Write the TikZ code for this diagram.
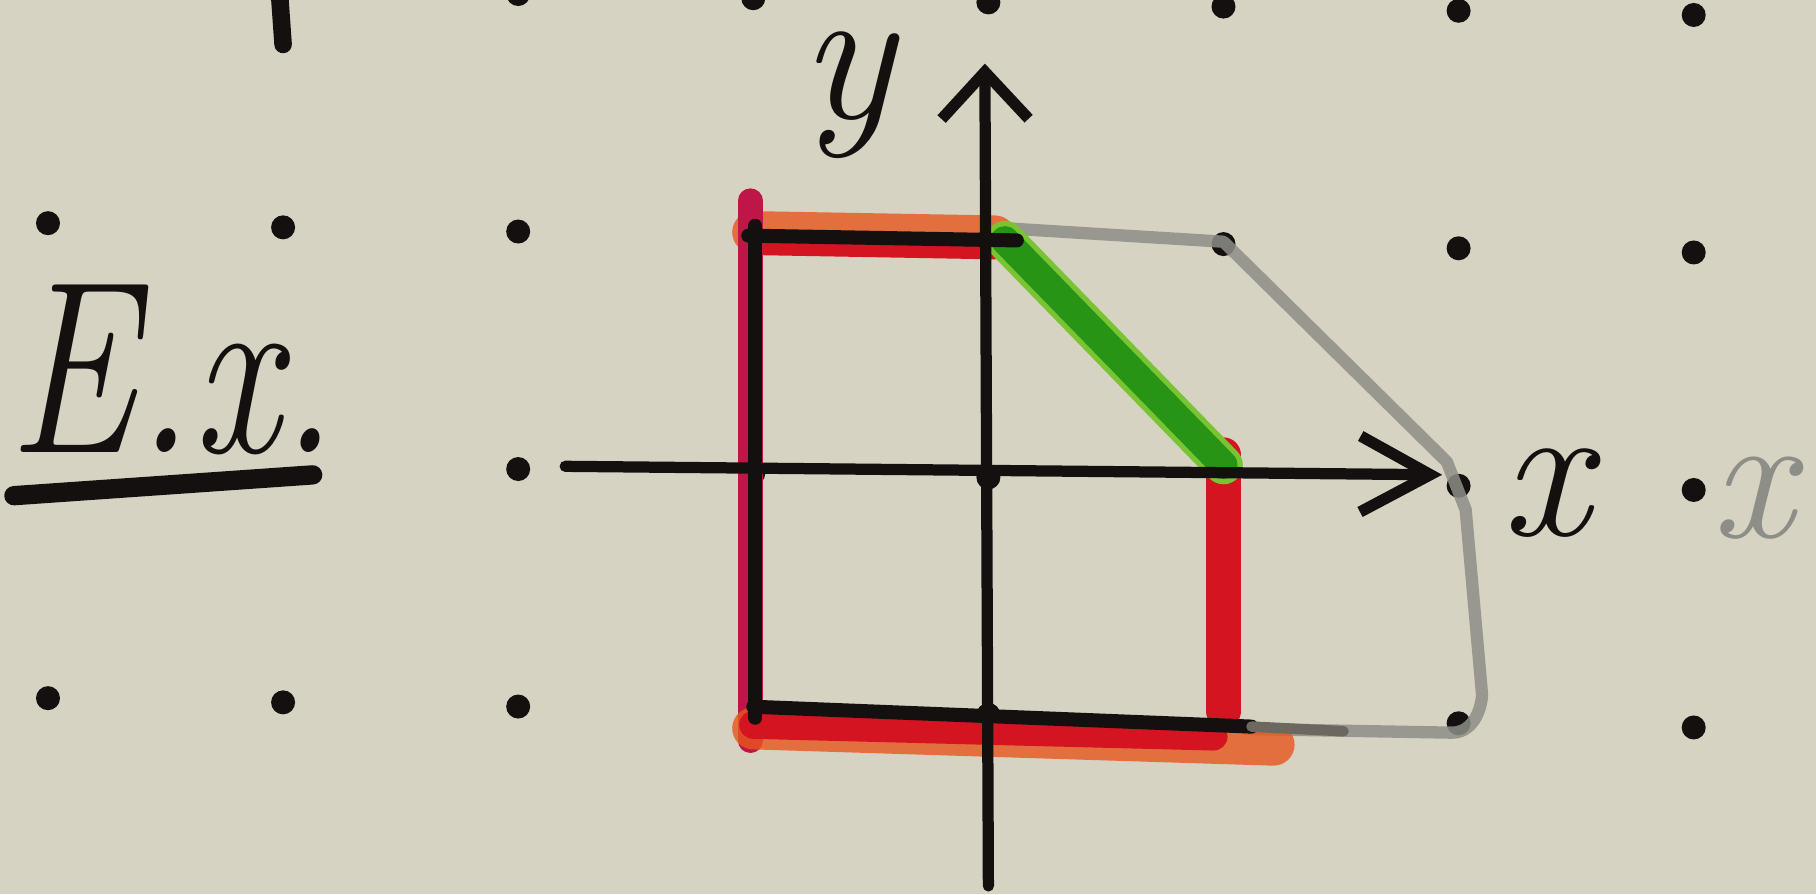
\documentclass[tikz,border=0pt]{standalone}
\usepackage{tikz}
\usepackage{graphicx}
\usetikzlibrary{arrows.meta}

\definecolor{paper}{RGB}{215,211,194}
\definecolor{ink}{RGB}{20,16,16}
\definecolor{markerred}{RGB}{212,20,32}
\definecolor{markerpink}{RGB}{190,22,72}
\definecolor{markerorange}{RGB}{232,86,30}
\definecolor{markergreen}{RGB}{40,148,22}
\definecolor{markerlime}{RGB}{120,196,50}
\definecolor{pencil}{RGB}{142,142,136}

\begin{document}
\begin{tikzpicture}[
  x=2.351cm, y=2.375cm,
  griddot/.style={circle, fill=ink, inner sep=0pt, minimum size=2.4mm},
  axisline/.style={draw=ink, line width=3.2pt, line cap=round},
  edgeline/.style={draw=ink, line width=4pt, line cap=round},
  redband/.style={draw=markerred, line width=10pt, line cap=round},
  orangeband/.style={draw=markerorange, line width=12pt, line cap=round, opacity=0.8},
  pinkband/.style={draw=markerpink, line width=7pt, line cap=round},
  greenband/.style={draw=markergreen, line width=8pt, line cap=round},
  limeband/.style={draw=markerlime, line width=11pt, line cap=round},
  pencilline/.style={draw=pencil, line width=3.5pt, line cap=round, line join=round, opacity=0.85},
  handlabel/.style={inner sep=0pt, text=ink, font=\fontsize{56}{56}\selectfont\itshape},
]

\fill[paper] (-9.884cm,-4.166cm) rectangle (8.276cm,4.774cm);
\useasboundingbox (-9.884cm,-4.166cm) rectangle (8.276cm,4.774cm);

\begin{scope}[yslant=-0.0178]

% dots of the paper
\foreach \i in {-2,...,3} \node[griddot] (top\i) at (\i,2) {};
\foreach \i in {-4,...,3} \node[griddot] (up\i) at (\i,1) {};
\foreach \i in {-2,...,3} \node[griddot] (mid\i) at (\i,0) {};
\foreach \i in {-4,...,3} \node[griddot] (low\i) at (\i,-1) {};

% stroke cut by the top edge
\coordinate (cutA) at (-3.02,2.05);
\coordinate (cutB) at (-3.0,1.77);
\draw[edgeline, line width=5pt] (cutA) -- (cutB);

% corners of the region
\coordinate (tl) at (-1,1);
\coordinate (tm) at (0.07,1);
\coordinate (mr) at (1,0.07);
\coordinate (br) at (1,-1);
\coordinate (bl) at (-1,-1);

% pencil outline
\coordinate (p1) at (0.08,1.05);
\coordinate (p2) at (1,1.01);
\coordinate (p3) at (1.95,0.1);
\coordinate (p4) at (2.03,-0.1);
\coordinate (p5) at (2.1,-0.88);
\coordinate (p6) at (1.97,-1.04);
\coordinate (p7) at (1.1,-1.04);
\draw[pencilline] (p1) -- (p2) -- (p3) -- (p4) -- (p5) to[out=-95,in=0] (p6) -- (p7);

% marker bands
\draw[orangeband] ([yshift=1pt]tl) -- ([xshift=-0.1cm,yshift=1pt]tm);
\draw[redband, line width=7pt] ([yshift=-2pt]tl) -- ([xshift=-0.1cm,yshift=-2pt]tm);
\draw[pinkband] ([xshift=-0.03cm,yshift=0.35cm]tl) -- ([xshift=-0.03cm,yshift=-0.3cm]bl);
\draw[orangeband] ([yshift=-5pt]bl) -- ([xshift=0.5cm,yshift=-7pt]br);
\draw[redband, line width=8pt] ([yshift=-4pt]bl) -- ([xshift=-0.1cm,yshift=-5pt]br);
\draw[redband] ([yshift=0.1cm]mr) -- ([yshift=0.08cm]br);
\draw[limeband] (tm) -- (mr);
\draw[greenband] (tm) -- (mr);

% black edges
\draw[edgeline] ([xshift=-0.05cm]tl) -- ([xshift=0.12cm]tm);
\draw[edgeline] ([xshift=0.02cm,yshift=0.1cm]tl) -- ([xshift=0.02cm,yshift=-0.07cm]bl);
\draw[edgeline] ([yshift=0.04cm]bl) -- ([xshift=0.28cm,yshift=-0.07cm]br);
\draw[edgeline, line width=3pt, draw=ink!55!paper] ([xshift=0.28cm,yshift=-0.07cm]br) -- ([xshift=1.2cm,yshift=-0.1cm]br);

% axes
\coordinate (xstart) at (-1.8,0.015);
\coordinate (xend) at (1.93,0.045);
\coordinate (ystart) at (0,-1.72);
\coordinate (yend) at (-0.015,1.742);
\draw[axisline, -{Straight Barb[length=7mm,width=7.6mm]}] (xstart) -- (xend);
\draw[axisline, -{Straight Barb[length=4.7mm,width=8.7mm]}] (ystart) -- (yend);

% labels
\node[handlabel] (ylabel) at (-0.6,1.6) {y};
\node[handlabel] (xlabel) at (2.37,-0.025) {x};
\node[handlabel, text=pencil, font=\fontsize{52}{52}\selectfont\itshape] (xpencil) at (3.25,-0.03) {x};

\node[handlabel, anchor=base west, font=\fontsize{70}{70}\selectfont\itshape] (example) at (-4.17,0.03) {\scalebox{0.78}[1]{E.x.}};
\coordinate (ulstart) at (-4.145,-0.15);
\coordinate (ulend) at (-2.874,-0.04);
\draw[edgeline, line width=5.5pt] (ulstart) -- (ulend);

\end{scope}
\end{tikzpicture}
\end{document}
